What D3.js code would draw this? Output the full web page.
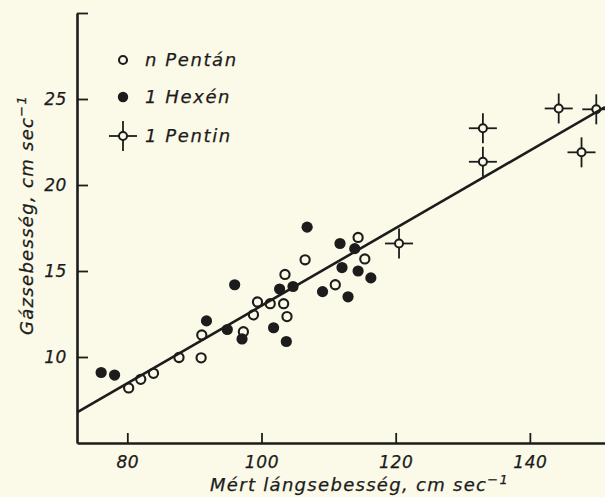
<!DOCTYPE html>
<html>
<head>
<meta charset="utf-8">
<script src="https://cdn.jsdelivr.net/npm/d3@7"></script>
<style>
  html, body { margin: 0; padding: 0; background: #fbf9e7; }
  svg { display: block; }
  text { font-family: 'DejaVu Sans', sans-serif; font-style: italic; fill: #1c1c1c; stroke: #1c1c1c; stroke-width: 0.25px; }
  .axis path, .axis line { stroke: #1c1c1c; }
</style>
</head>
<body>
<svg id="chart" width="605" height="497"></svg>
<script>
// n Pentán (open circles)
const pentanX = [80.2, 82.0, 83.9, 87.7, 91.0, 91.1, 97.3, 98.8, 99.4, 101.3, 103.3, 103.8, 103.5, 106.5, 111.0, 114.4, 115.4];
const pentanY = [8.2, 8.7, 9.05, 9.97, 9.95, 11.28, 11.47, 12.45, 13.2, 13.1, 13.1, 12.35, 14.8, 15.65, 14.2, 16.95, 15.7];

// 1 Hexén (filled circles)
const hexenX = [76.1, 78.1, 91.8, 94.9, 96.0, 97.1, 101.8, 102.7, 103.7, 104.7, 106.8, 109.1, 111.7, 112.0, 112.9, 113.9, 114.4, 116.3];
const hexenY = [9.1, 8.95, 12.1, 11.6, 14.2, 11.05, 11.7, 13.95, 10.9, 14.1, 17.55, 13.8, 16.6, 15.2, 13.5, 16.3, 15.0, 14.6];

// 1 Pentin (circle with cross)
const pentinX = [120.5, 133.0, 133.0, 144.3, 149.9, 147.7];
const pentinY = [16.6, 23.3, 21.35, 24.45, 24.4, 21.9];

// fitted line, end points
const fitX = [72.5, 151.2];
const fitY = [6.78, 24.53];

const xTicks = [80, 100, 120, 140];
const yTicks = [10, 15, 20, 25, 30];
const yTickLabels = ['10', '15', '20', '25', ''];

const seriesNames = ['n Pentán', '1 Hexén', '1 Pentin'];

const ink = '#1c1c1c';

const svg = d3.select('#chart');

const xScale = d3.scaleLinear().domain([72.5, 151.2]).range([77, 605]);
const yScale = d3.scaleLinear().domain([5, 30]).range([443, 13]);

// axes
const xAxis = svg
  .append('g')
  .attr('class', 'axis x-axis')
  .attr('transform', `translate(0, ${yScale(5)})`)
  .call(d3.axisBottom(xScale).tickValues(xTicks).tickSize(-10).tickSizeOuter(0).tickPadding(13));

xAxis.select('path.domain').attr('stroke-width', 2.6);
xAxis.selectAll('.tick line').attr('stroke-width', 1.8);
xAxis
  .selectAll('.tick text')
  .attr('dy', '0.71em')
  .style('font-size', '17px')
  .style('letter-spacing', '0.6px')
  .attr('fill', ink);

const yAxis = svg
  .append('g')
  .attr('class', 'axis y-axis')
  .attr('transform', `translate(${xScale(72.5)}, 0)`)
  .call(
    d3
      .axisLeft(yScale)
      .tickValues(yTicks)
      .tickFormat((d, i) => yTickLabels[i])
      .tickSize(-11)
      .tickSizeOuter(0)
      .tickPadding(10)
  );

yAxis.select('path.domain').attr('stroke-width', 2.6);
yAxis.selectAll('.tick line').attr('stroke-width', 1.8);
yAxis
  .selectAll('.tick text')
  .style('font-size', '17px')
  .style('letter-spacing', '0.6px')
  .attr('fill', ink);

// axis titles
const xTitle = svg
  .append('text')
  .attr('x', 210)
  .attr('y', 491)
  .style('font-size', '18px')
  .style('letter-spacing', '1.3px')
  .text('Mért lángsebesség, cm sec');
xTitle.append('tspan').attr('dy', -7).style('font-size', '13px').text('−1');

const yTitle = svg
  .append('text')
  .attr('transform', 'translate(33, 335) rotate(-90)')
  .style('font-size', '18px')
  .style('letter-spacing', '1.3px')
  .text('Gázsebesség, cm sec');
yTitle.append('tspan').attr('dy', -7).style('font-size', '13px').text('−1');

// fitted line
svg
  .append('line')
  .attr('x1', xScale(fitX[0]))
  .attr('y1', yScale(fitY[0]))
  .attr('x2', xScale(fitX[1]))
  .attr('y2', yScale(fitY[1]))
  .attr('stroke', ink)
  .attr('stroke-width', 2.6);

function drawOpen(g, r) {
  g.append('circle').attr('r', r).attr('fill', 'none').attr('stroke', ink).attr('stroke-width', 2.1);
}

function drawFilled(g, r) {
  g.append('circle').attr('r', r).attr('fill', ink);
}

function drawCross(g) {
  const arms = [
    [-14, 0, -4, 0],
    [4, 0, 14, 0],
    [0, -15, 0, -4],
    [0, 4, 0, 15],
  ];
  arms.forEach((a) => {
    g.append('line')
      .attr('x1', a[0])
      .attr('y1', a[1])
      .attr('x2', a[2])
      .attr('y2', a[3])
      .attr('stroke', ink)
      .attr('stroke-width', 1.8);
  });
  g.append('circle').attr('r', 4).attr('fill', 'none').attr('stroke', ink).attr('stroke-width', 2);
}

function plotSeries(xs, ys, draw) {
  svg
    .append('g')
    .selectAll('g')
    .data(xs.map((x, i) => [x, ys[i]]))
    .enter()
    .append('g')
    .attr('transform', (d) => `translate(${xScale(d[0])}, ${yScale(d[1])})`)
    .each(function () {
      draw(d3.select(this));
    });
}

plotSeries(pentanX, pentanY, (g) => drawOpen(g, 4.6));
plotSeries(hexenX, hexenY, (g) => drawFilled(g, 5.6));
plotSeries(pentinX, pentinY, drawCross);

// legend
const legendMarkers = [(g) => drawOpen(g, 4), (g) => drawFilled(g, 5.2), drawCross];
const legend = svg
  .append('g')
  .selectAll('g')
  .data(seriesNames)
  .enter()
  .append('g')
  .attr('transform', (d, i) => `translate(123, ${[60, 97, 136][i]})`);

legend.each(function (d, i) {
  legendMarkers[i](d3.select(this));
});

legend
  .append('text')
  .attr('x', 22)
  .attr('y', 6)
  .style('font-size', '18px')
  .style('letter-spacing', '1.6px')
  .text((d) => d);
</script>
</body>
</html>
